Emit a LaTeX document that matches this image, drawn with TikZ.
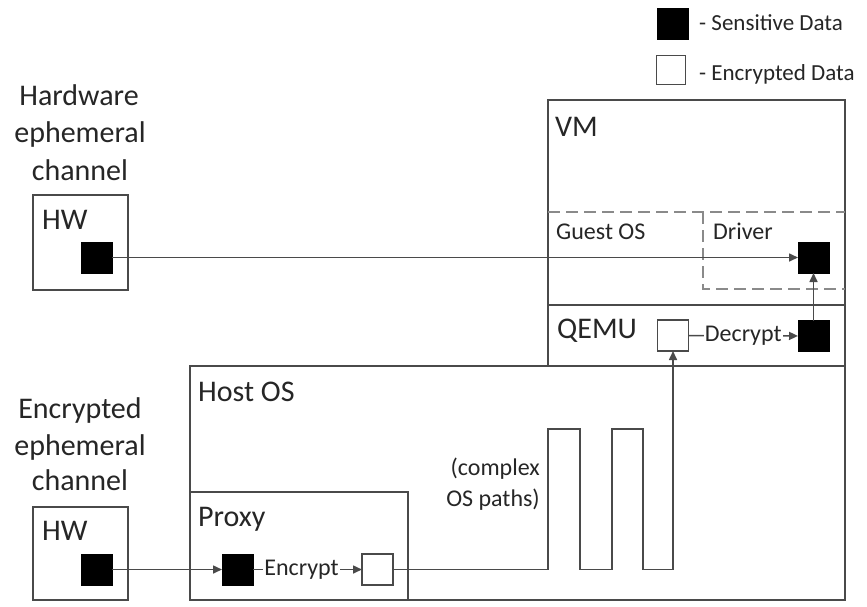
\documentclass[tikz,border=0pt]{standalone}
\usepackage{fontspec}
\setmainfont{Carlito}
\usetikzlibrary{arrows.meta}
\definecolor{linec}{HTML}{4A4A4A}
\definecolor{dashc}{HTML}{8A8A8A}
\begin{document}
\begin{tikzpicture}[x=1pt,y=-1pt,
  box/.style={draw=linec, line width=1.8pt, inner sep=0pt, outer sep=0pt, anchor=north west},
  sens/.style={draw=black, fill=black, minimum size=31pt, inner sep=0pt, outer sep=0pt, line width=1pt},
  enc/.style={draw=linec, fill=white, minimum size=31pt, inner sep=0pt, outer sep=0pt, line width=1.2pt},
  big/.style={font=\fontsize{30}{36}\selectfont, inner sep=0pt, text=black!85},
  small/.style={font=\fontsize{24}{28}\selectfont, inner sep=0pt, text=black!85},
  legtext/.style={font=\fontsize{23}{27}\selectfont, inner sep=0pt, text=black!85, anchor=base west},
  conn/.style={draw=linec, line width=1.6pt},
  arr/.style={conn, -{Triangle[length=9pt,width=8pt]}},
  dashline/.style={draw=dashc, line width=1.6pt, dash pattern=on 12pt off 6pt}
]
\useasboundingbox[fill=white] (0,0) rectangle (867,606);

% legend
\node[sens, minimum size=31pt] (lb) at (673,24) {};
\node[legtext] (lbt) at (699,30) {- Sensitive Data};
\node[enc, minimum size=29pt] (lw) at (671,70) {};
\node[legtext] (lwt) at (699,80) {- Encrypted Data};

% left labels
\node[big, anchor=base] (t1a) at (79,105) {Hardware};
\node[big, anchor=base] (t1b) at (80,142) {ephemeral};
\node[big, anchor=base] (t1c) at (80,180) {channel};
\node[big, anchor=base] (t2a) at (80,418) {Encrypted};
\node[big, anchor=base] (t2b) at (80,455) {ephemeral};
\node[big, anchor=base] (t2c) at (80,490) {channel};

% boxes
\node[box, minimum width=95pt, minimum height=95pt] (hw1) at (33,195) {};
\node[box, minimum width=95pt, minimum height=93pt] (hw2) at (33,507) {};
\node[box, minimum width=297pt, minimum height=205pt] (vm) at (548,100) {};
\node[box, minimum width=297pt, minimum height=61pt] (qemu) at (548,305) {};
\node[box, minimum width=655pt, minimum height=234pt] (host) at (190,366) {};
\node[box, minimum width=218pt, minimum height=108pt] (proxy) at (190,492) {};

% dashed guest OS / driver
\draw[dashline] (548,212) -- (845,212);
\draw[dashline] (703,212) -- (703,289) -- (845,289);

% box labels
\node[big, anchor=base west] (hw1l) at (42,229) {HW};
\node[big, anchor=base west] (hw2l) at (42,540) {HW};
\node[big, anchor=base west] (vml) at (555,136) {VM};
\node[small, anchor=base west] (gol) at (556,239) {Guest OS};
\node[small, anchor=base west] (drl) at (713,239) {Driver};
\node[big, anchor=base west] (qel) at (557,338) {QEMU};
\node[big, anchor=base west] (hol) at (198,401) {Host OS};
\node[big, anchor=base west] (prl) at (198,526) {Proxy};
\node[small, anchor=base east] (cp1) at (540,475) {(complex};
\node[small, anchor=base east] (cp2) at (540,506) {OS paths)};

% data squares
\node[sens] (s1) at (96.5,257.5) {};
\node[sens] (d) at (813.5,257.5) {};
\node[enc] (qw) at (673,335.5) {};
\node[sens] (qb) at (813.5,336) {};
\node[sens] (s2) at (96.5,569.5) {};
\node[sens] (pb) at (237.5,569.5) {};
\node[enc] (pw) at (377.5,569.5) {};

% zigzag corners
\coordinate (z1) at (548,569.5);
\coordinate (z2) at (548,429);
\coordinate (z3) at (580,429);
\coordinate (z4) at (580,569.5);
\coordinate (z5) at (612,569.5);
\coordinate (z6) at (612,429);
\coordinate (z7) at (643,429);
\coordinate (z8) at (643,569.5);

% connectors
\draw[arr] (s1) -- (d);
\draw[arr] (qb) -- (d);
\draw[arr] (qw) -- node[small, fill=white, inner xsep=1pt, inner ysep=2pt] (dec) {Decrypt} (qb);
\draw[arr] (s2) -- (pb);
\draw[arr] (pb) -- node[small, fill=white, inner xsep=1pt, inner ysep=2pt, xshift=-6pt] (encr) {Encrypt} (pw);
\draw[arr] (pw.east) -- (z1) -- (z2) -- (z3) -- (z4) -- (z5) -- (z6) -- (z7) -- (z8) -- (z8 -| qw.south) -- (qw.south);
\end{tikzpicture}
\end{document}
